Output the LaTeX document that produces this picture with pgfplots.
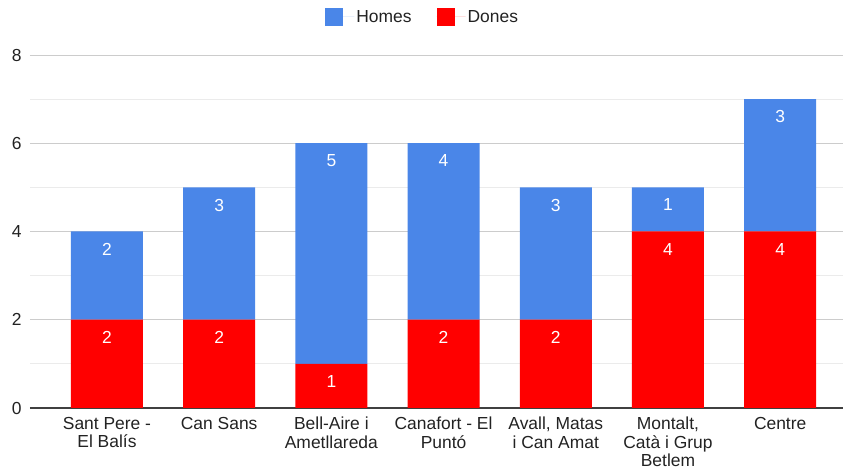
\documentclass[border=0pt]{standalone}
\usepackage{fontspec}
\setmainfont{Liberation Sans}
\usepackage{pgfplots}
\pgfplotsset{compat=1.18}

\definecolor{homes}{HTML}{4A86E8}
\definecolor{dones}{HTML}{FF0000}
\definecolor{gridmaj}{HTML}{CCCCCC}
\definecolor{gridmin}{HTML}{EBEBEB}
\definecolor{txt}{HTML}{222222}

\newcommand{\chartfont}{\fontsize{17.5}{18.5}\selectfont}

\begin{document}
\begin{tikzpicture}
\begin{axis}[
    scale only axis,
    width=813bp, height=353bp,
    ybar stacked,
    bar width=72bp,
    xmin=-0.686, xmax=6.56,
    ymin=0, ymax=8,
    enlargelimits=false,
    xtick={0,...,6},
    xticklabels={{Sant Pere -\\El Balís},{Can Sans},{Bell-Aire i\\Ametllareda},{Canafort - El\\Puntó},{Avall, Matas\\i Can Amat},{Montalt,\\Catà i Grup\\Betlem},{Centre}},
    ytick={0,2,4,6,8},
    minor y tick num=1,
    ymajorgrids, yminorgrids,
    major grid style={draw=gridmaj, line width=0.9bp},
    minor grid style={draw=gridmin, line width=0.9bp},
    major tick length=0pt, minor tick length=0pt,
    axis x line*=bottom,
    axis y line*=left,
    y axis line style={draw=none},
    x axis line style={draw=black!75, line width=1.3bp},
    tick style={draw=none},
    /pgf/number format/assume math mode=true,
    ticklabel style={font=\chartfont, text=txt},
    xticklabel style={align=center, inner sep=0.5bp, yshift=-8.5bp},
    yticklabel style={xshift=-5bp},
    point meta=rawy,
    visualization depends on={rawy \as \segval},
    nodes near coords,
    every node near coord/.append style={anchor=north, yshift={\segval*22.06bp-8bp}, text=white, font=\chartfont},
    legend columns=2,
    reverse legend,
    legend style={draw=none, fill=none, at={(0.483,1)}, anchor=south, yshift=27bp,
        font=\chartfont, text=txt,
        /tikz/every even column/.append style={column sep=23bp}},
    legend image code/.code={\fill[#1] (0bp,-9bp) rectangle (18bp,9bp); \path (0bp,0bp) -- (29bp,0bp);},
]
\addplot[fill=dones, draw=none] coordinates {(0,2) (1,2) (2,1) (3,2) (4,2) (5,4) (6,4)};
\addlegendentry{Dones}
\addplot[fill=homes, draw=none] coordinates {(0,2) (1,3) (2,5) (3,4) (4,3) (5,1) (6,3)};
\addlegendentry{Homes}
\end{axis}
\pgfresetboundingbox
\path[use as bounding box] (-30bp,-63bp) rectangle (813bp,408bp);
\end{tikzpicture}
\end{document}
